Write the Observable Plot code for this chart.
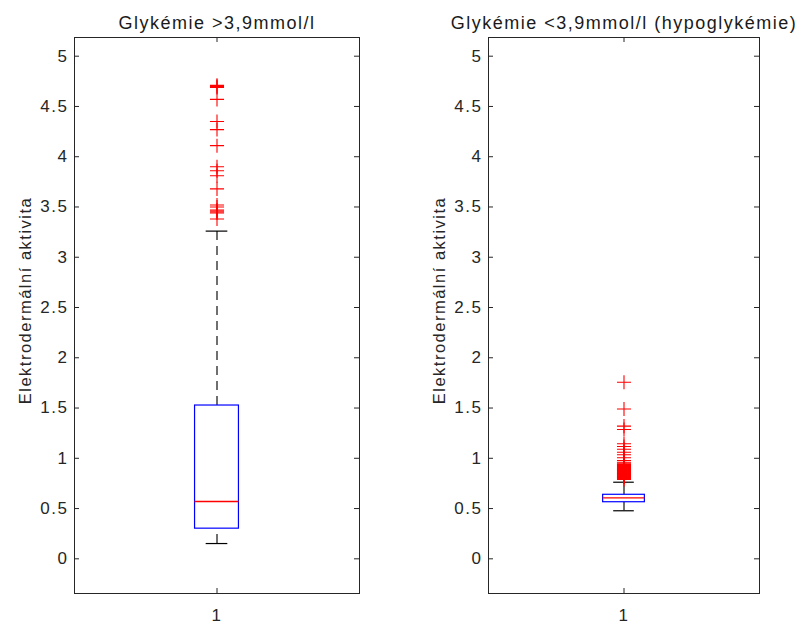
<!DOCTYPE html>
<html>
<head>
<meta charset="utf-8">
<script src="https://cdn.jsdelivr.net/npm/d3@7"></script>
<script src="https://cdn.jsdelivr.net/npm/@observablehq/plot@0.6"></script>
<style>
  html, body { margin: 0; padding: 0; background: #fff; }
  #wrap { position: relative; width: 803px; height: 626px; background: #fff; overflow: hidden; }
  .panel { position: absolute; top: 0; }
</style>
</head>
<body>
<div id="wrap">
  <div class="panel" id="p1" style="left:0px"></div>
  <div class="panel" id="p2" style="left:401px"></div>
</div>
<script>
// ---- Data ----
const titles = ["Glykémie >3,9mmol/l", "Glykémie <3,9mmol/l (hypoglykémie)"];
const yLabel = "Elektrodermální aktivita";
const xCategories = [1];
const yTicks = [0, 0.5, 1, 1.5, 2, 2.5, 3, 3.5, 4, 4.5, 5];

// box statistics per panel
const q1 = [0.30, 0.563];
const median = [0.57, 0.607];
const q3 = [1.525, 0.637];
const whiskerLow = [0.152, 0.478];
const whiskerHigh = [3.26, 0.762];

// outliers per panel
const outliers1 = [4.71, 4.70, 4.69, 4.57, 4.35, 4.27, 4.11, 3.90, 3.86, 3.81, 3.68,
  3.52, 3.50, 3.47, 3.46, 3.45, 3.44, 3.38];
const outliers2 = [1.757, 1.49, 1.32, 1.287, 1.144, 1.117, 1.09, 1.06, 1.035, 1.005, 0.978,
  0.96, 0.95, 0.94, 0.93, 0.92, 0.91, 0.90, 0.89, 0.885, 0.88, 0.87, 0.86, 0.85, 0.845,
  0.84, 0.83, 0.82, 0.815, 0.81, 0.80, 0.79];
const outliers = [outliers1, outliers2];

// ---- Layout / style ----
const axisColor = "#262626";
const font = "'Liberation Sans', Arial, Helvetica, sans-serif";
const yDomain = [-0.345, 5.186];
const xDomain = [0.5, 1.5];
const boxHalf = 0.077;
const capHalf = 0.038;
const panels = [
  {el: "#p1", width: 401, marginLeft: 74, marginRight: 42},
  {el: "#p2", width: 402, marginLeft: 87, marginRight: 44}
];
const height = 626, marginTop = 37, marginBottom = 33;

panels.forEach((p, i) => {
  const fw = p.width - p.marginLeft - p.marginRight;
  const fh = height - marginTop - marginBottom;
  const stats = xCategories.map(c => ({
    pos: c, q1: q1[i], median: median[i], q3: q3[i], lo: whiskerLow[i], hi: whiskerHigh[i]
  }));
  const pts = outliers[i].map(v => ({pos: xCategories[0], v}));
  const chart = Plot.plot({
    width: p.width,
    height,
    marginLeft: p.marginLeft,
    marginRight: p.marginRight,
    marginTop,
    marginBottom,
    x: {domain: xDomain},
    y: {domain: yDomain},
    style: {fontFamily: font, fontSize: "17px", letterSpacing: "1.5px", color: axisColor, background: "white", overflow: "visible"},
    marks: [
      // whiskers (dashed)
      Plot.ruleX(stats, {x: "pos", y1: "q3", y2: "hi", stroke: "#404040", strokeWidth: 1.5, strokeDasharray: "9,6"}),
      Plot.ruleX(stats, {x: "pos", y1: "lo", y2: "q1", stroke: "#404040", strokeWidth: 1.5, strokeDasharray: "9,6"}),
      // whisker caps
      Plot.ruleY(stats, {y: "hi", x1: d => d.pos - capHalf, x2: d => d.pos + capHalf, stroke: "black", strokeWidth: 1.2}),
      Plot.ruleY(stats, {y: "lo", x1: d => d.pos - capHalf, x2: d => d.pos + capHalf, stroke: "black", strokeWidth: 1.2}),
      // box
      Plot.rect(stats, {x1: d => d.pos - boxHalf, x2: d => d.pos + boxHalf, y1: "q1", y2: "q3", fill: "white", stroke: "#0000ff", strokeWidth: 1.2}),
      // median
      Plot.ruleY(stats, {y: "median", x1: d => d.pos - boxHalf, x2: d => d.pos + boxHalf, stroke: "#ff0000", strokeWidth: 1.3}),
      // outliers
      Plot.dot(pts, {x: "pos", y: "v", symbol: "plus", r: 4.6, stroke: "#ff0000", strokeWidth: 1.1}),
      // frame and inward ticks
      Plot.frame({stroke: axisColor, strokeWidth: 1}),
      Plot.tickY(yTicks, {y: d => d, insetRight: fw - 5, stroke: axisColor}),
      Plot.tickY(yTicks, {y: d => d, insetLeft: fw - 5, stroke: axisColor}),
      Plot.tickX(xCategories, {x: d => d, insetBottom: fh - 5, stroke: axisColor}),
      Plot.tickX(xCategories, {x: d => d, insetTop: fh - 5, stroke: axisColor}),
      // tick labels
      Plot.axisY(yTicks, {tickSize: 0, tickPadding: 6, label: null, tickFormat: d => String(d)}),
      Plot.axisX(xCategories, {tickSize: 0, tickPadding: 15, label: null, tickFormat: d => String(d)}),
      // title
      Plot.text([titles[i]], {text: d => d, frameAnchor: "top", dy: -14.5, lineAnchor: "middle", textAnchor: "middle", fontSize: 18, fill: "#1a1a1a"}),
      // y label
      Plot.text([yLabel], {text: d => d, frameAnchor: "left", dx: -49, dy: -15, rotate: -90, lineAnchor: "middle", textAnchor: "middle", fontSize: 16.5, fill: axisColor})
    ]
  });
  document.querySelector(p.el).appendChild(chart);
});
</script>
</body>
</html>
